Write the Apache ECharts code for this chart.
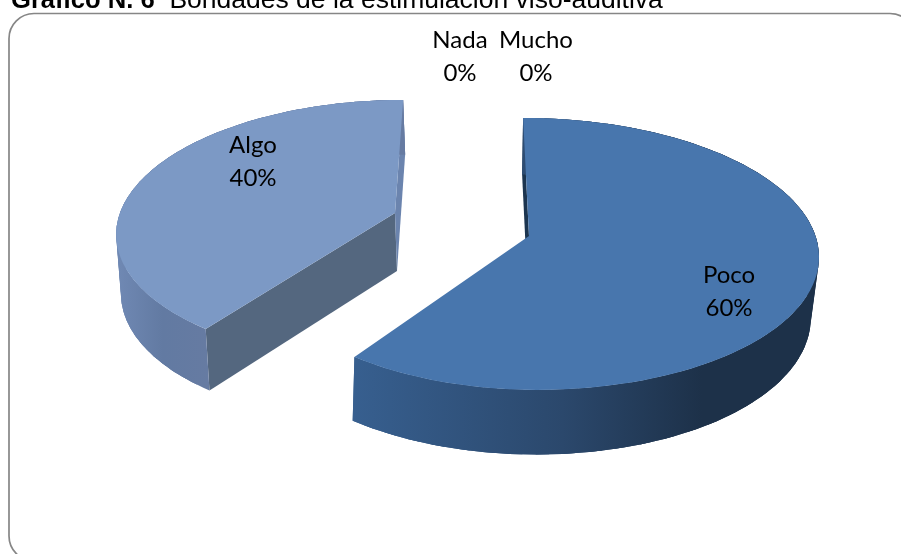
<!DOCTYPE html>
<html>
<head>
<meta charset="utf-8" />
<style>
  html, body { margin: 0; padding: 0; background: #fff; overflow: hidden; }
  #chart { width: 901px; height: 554px; }
</style>
<script src="https://cdn.jsdelivr.net/npm/echarts@6/dist/echarts.min.js"></script>
</head>
<body>
<div id="chart"></div>
<script>
const categories = ["Poco", "Algo", "Nada", "Mucho"];
const values = [60, 40, 0, 0];

// how each slice sits on the page, the 3D look is faked with a perspective ellipse
const sliceLayout = [
  { ax: 529, ay: 236, r: 286.5, rv: 133.6, k: 0.132, shear: 0.05, depth: 60, sx: 0.975, sy: 1.03,
    left: 0.958, leftBottom: 0.962, apexShift: -1,
    top: "#4876ad", startFace: "#1c3550", wallRange: [354, 818],
    wall: [["0", "#375f8f"], ["0.45", "#2b486c"], ["0.75", "#1d3149"], ["1", "#1d3149"]] },
  { ax: 395, ay: 213, r: 275, rv: 128, k: 0.132, shear: -0.072, depth: 58, sx: 1, sy: 1.03,
    left: 1, leftBottom: 0.99, apexShift: 2,
    top: "#7c99c5", startFace: "#54677f", endFace: "#6b84ae", wallRange: [116, 210],
    wall: [["0", "#7089b4"], ["0.5", "#627aa2"], ["1", "#667ba2"]] },
];
const labelPos = [[729, 292], [253, 162], [460, 57], [536, 57]];

var total = values.reduce(function (a, b) { return a + b; }, 0);

function project(s, deg, level) {
  var t = (deg * Math.PI) / 180;
  var w = 1 / (1 + s.k * Math.cos(t));
  var dx = s.r * Math.sin(t) * w;
  var dy = -s.rv * Math.cos(t) * w;
  if (level === 1) {
    var fx = dx < 0 ? s.leftBottom : s.sx;
    return [s.ax + s.apexShift + dx * fx + s.shear * dy, s.ay + s.depth + dy * s.sy];
  }
  return [s.ax + dx * (dx < 0 ? s.left : 1) + s.shear * dy, s.ay + dy];
}

function arc(s, a0, a1, level) {
  var pts = [];
  for (var i = 0; i <= 90; i++) {
    pts.push(project(s, a0 + ((a1 - a0) * i) / 90, level));
  }
  return pts;
}

function apex(s, level) {
  return level === 1 ? [s.ax + s.apexShift, s.ay + s.depth] : [s.ax, s.ay];
}

function renderSlice(params, api) {
  var i = params.dataIndex;
  var start = 0;
  for (var n = 0; n < i; n++) start += (values[n] / total) * 360;
  var end = start + (api.value(0) / total) * 360;
  var children = [];
  var s = sliceLayout[i];

  if (s) {
    var stops = s.wall.map(function (w) {
      return { offset: Number(w[0]), color: w[1] };
    });
    var wallFill = new echarts.graphic.LinearGradient(s.wallRange[0], 0, s.wallRange[1], 0, stops, true);
    // faces and walls first, the top paints over whatever is hidden
    children.push({
      type: "polygon",
      shape: { points: [apex(s, 0), project(s, start, 0), project(s, start, 1), apex(s, 1)] },
      style: { fill: s.startFace },
    });
    if (s.endFace) {
      children.push({
        type: "polygon",
        shape: { points: [apex(s, 0), project(s, end, 0), project(s, end, 1), apex(s, 1)] },
        style: { fill: s.endFace },
      });
    }
    // overlapping bands so the silhouette between top and bottom gets filled, no seams
    var upper = arc(s, start, end, 0);
    var lower = arc(s, start, end, 1);
    for (var q = 0; q < upper.length - 1; q += 2) {
      var e = Math.min(q + 5, upper.length - 1);
      children.push({
        type: "polygon",
        shape: { points: upper.slice(q, e + 1).concat(lower.slice(q, e + 1).reverse()) },
        style: { fill: wallFill },
      });
    }
    children.push({
      type: "polygon",
      shape: { points: [apex(s, 0)].concat(upper) },
      style: { fill: s.top },
    });
  }

  children.push({
    type: "text",
    style: {
      text: categories[i] + "\n" + Math.round((values[i] / total) * 100) + "%",
      x: labelPos[i][0],
      y: labelPos[i][1],
      align: "center",
      verticalAlign: "middle",
      fontFamily: "Lato",
      fontSize: 24,
      lineHeight: 33,
      fill: "#000",
    },
  });
  return { type: "group", children: children };
}

var myChart = echarts.init(document.getElementById("chart"));
var option = {
  animation: false,
  backgroundColor: "#fff",
  title: {
    text: "{b|Gráfico N. 6}  Bondades de la estimulación viso-auditiva",
    left: 11,
    top: -13,
    padding: 0,
    textStyle: {
      fontFamily: "Liberation Sans",
      fontSize: 26.5,
      fontWeight: "normal",
      color: "#000",
      rich: {
        b: { fontFamily: "Liberation Sans", fontSize: 25.6, fontWeight: "bold", color: "#000" },
      },
    },
  },
  graphic: [
    {
      type: "rect",
      z: -1,
      shape: { x: 9, y: 13.5, width: 906, height: 547.5, r: 25 },
      style: { fill: "#fff", stroke: "#868686", lineWidth: 1.7 },
    },
  ],
  series: [
    {
      type: "custom",
      coordinateSystem: "none",
      clip: false,
      renderItem: renderSlice,
      data: values.map(function (v) { return [v]; }),
    },
  ],
};
myChart.setOption(option);
</script>
</body>
</html>
